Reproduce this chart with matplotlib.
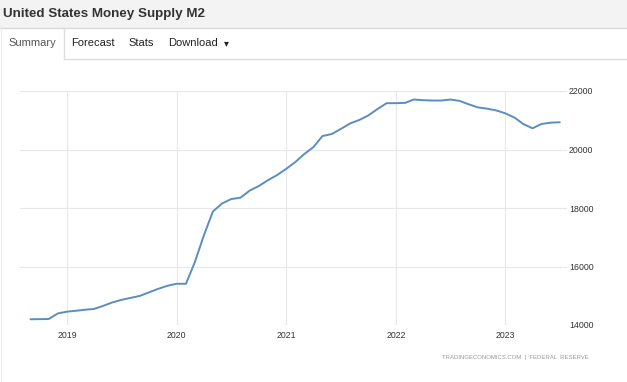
import matplotlib.pyplot as plt
import matplotlib.dates as mdates
import pandas as pd
from matplotlib.lines import Line2D
from matplotlib.patches import Rectangle

plt.rcParams["font.family"] = ["Liberation Sans", "DejaVu Sans"]

W, H = 627, 382

# monthly M2, billions USD, Sep 2018 .. Jul 2023
START = "2018-09-01"
M2 = [
    14196, 14200, 14206, 14395,
    14457, 14488, 14522, 14550, 14653, 14773, 14859, 14928, 14997, 15117, 15237, 15340,
    15409, 15409, 16130, 17069, 17883, 18158, 18306, 18354, 18598, 18753, 18955, 19127,
    19344, 19584, 19842, 20082, 20460, 20529, 20701, 20890, 21010, 21165, 21388, 21584,
    21584, 21595, 21708, 21687, 21674, 21674, 21708, 21663, 21543, 21440, 21395, 21337,
    21234, 21086, 20873, 20725, 20873, 20918, 20931,
]
YEAR_TICKS = ["2019", "2020", "2021", "2022", "2023"]
Y_TICKS = [14000, 16000, 18000, 20000, 22000]

dates = pd.date_range(START, periods=len(M2), freq="MS")


def fx(px):
    return px / W


def fy(py):
    return 1 - py / H


fig = plt.figure(figsize=(W / 100, H / 100), dpi=100)
fig.patch.set_facecolor("white")

# header band and tab bar
fig.patches.append(Rectangle((0, fy(27.5)), 1, 27.5 / H, transform=fig.transFigure,
                             facecolor="#f3f3f3", edgecolor="none", zorder=0))
fig.lines.append(Line2D([0, 1], [fy(27.5), fy(27.5)], transform=fig.transFigure,
                        color="#dadada", lw=1.0))
fig.lines.append(Line2D([fx(63.5), 1], [fy(59), fy(59)], transform=fig.transFigure,
                        color="#dddddd", lw=1.0))
fig.lines.append(Line2D([fx(63.5), fx(63.5)], [fy(28), fy(59)], transform=fig.transFigure,
                        color="#dddddd", lw=1.0))
fig.lines.append(Line2D([fx(1.2), fx(1.2)], [fy(28), 0], transform=fig.transFigure,
                        color="#ececec", lw=0.8))

fig.text(fx(3), fy(13.5), "United States Money Supply M2", fontsize=9.6,
         fontweight="bold", color="#333333", ha="left", va="center")
fig.text(fx(8), fy(43.5), "Summary", fontsize=8, color="#555555", ha="left", va="center")
fig.text(fx(71), fy(43.5), "Forecast", fontsize=8, color="#222222", ha="left", va="center")
fig.text(fx(128), fy(43.5), "Stats", fontsize=8, color="#222222", ha="left", va="center")
fig.text(fx(168), fy(43.5), "Download", fontsize=8, color="#222222", ha="left", va="center")
fig.text(fx(226), fy(43.5), "\u25be", fontsize=7, color="#222222", ha="center", va="center",
         family=["DejaVu Sans"])

# chart
ax = fig.add_axes([fx(20), fy(325), fx(567) - fx(20), (325 - 91) / H])
ax.plot(dates, M2, color="#5b8dc0", lw=1.4, solid_capstyle="round", zorder=3)

ax.set_ylim(14000, 22000)
ax.set_yticks(Y_TICKS)
ax.yaxis.tick_right()
ax.tick_params(axis="y", length=0, pad=1.5, labelsize=6.3, labelcolor="#333333")

ax.set_xlim(pd.Timestamp("2018-07-28"), pd.Timestamp("2023-07-25"))
ax.set_xticks([pd.Timestamp(f"{y}-01-01") for y in YEAR_TICKS])
ax.set_xticklabels(YEAR_TICKS)
ax.tick_params(axis="x", length=0, pad=4.5, labelsize=6.3, labelcolor="#333333")

ax.grid(True, color="#e8e8e8", lw=0.8)
ax.set_axisbelow(True)
for s in ax.spines.values():
    s.set_visible(False)

fig.text(fx(589), fy(357), "TRADINGECONOMICS.COM  |  FEDERAL  RESERVE", fontsize=4.3,
         color="#9a9a9a", ha="right", va="center")

fig.savefig("out.png", dpi=100, facecolor="white")
